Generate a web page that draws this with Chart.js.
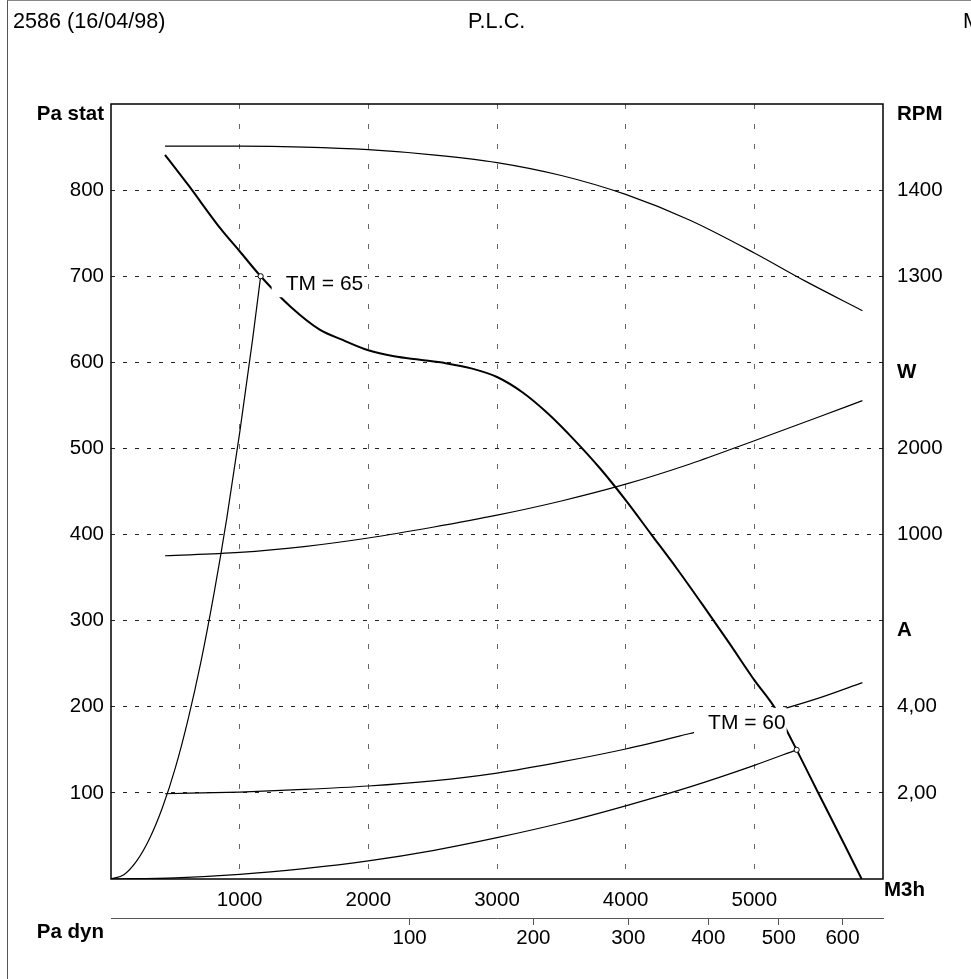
<!DOCTYPE html>
<html>
<head>
<meta charset="utf-8">
<script src="https://cdn.jsdelivr.net/npm/chart.js@4.4.1/dist/chart.umd.min.js"></script>
<style>
  html, body { margin: 0; padding: 0; background: #fff; overflow: hidden; }
  #page { position: absolute; left: 7px; top: 0; width: 990px; height: 990px; border-left: 1px solid #555; border-top: 1px solid #888; }
  .hdr { position: absolute; top: 8px; font: 21.6px "Liberation Sans", Arial, sans-serif; color: #000; white-space: nowrap; }
  canvas { position: absolute; left: 0; top: 0; }
</style>
</head>
<body>
<div id="page"></div>
<canvas id="chart" width="971" height="979"></canvas>
<div class="hdr" style="left:13px">2586 (16/04/98)</div>
<div class="hdr" style="left:468px">P.L.C.</div>
<div class="hdr" style="left:963px">M</div>
<script>
// axes
const X_MAX = 6000;
const PA_MAX = 900;
const X_TICKS = [1000, 2000, 3000, 4000, 5000];
const Y_TICKS = [100, 200, 300, 400, 500, 600, 700, 800];
const PA_DYN_TICKS = [100, 200, 300, 400, 500, 600];
const DYN_K = 232.1;          // m3/h per sqrt(Pa dyn)

// right hand scales: value = offset + factor * Pa stat
const RPM_MAP = [600, 1];
const W_MAP = [-3000, 10];
const A_MAP = [0, 0.02];
const RPM_TICKS = [1400, 1300];
const W_TICKS = [2000, 1000];
const A_TICKS = [4, 2];

// fan curve, Pa stat
const PRESSURE_Q = [420, 600, 858, 1000, 1163, 1400, 1622, 1800, 2000, 2200, 2400, 2600, 2800, 3000, 3200, 3400, 3600, 3800, 4000, 4200, 4400, 4600, 4800, 5000, 5158, 5236, 5329, 5500, 5700, 5834];
const PRESSURE_PA = [841, 806, 754, 729, 700, 664, 638, 626, 614, 607, 603, 599, 593, 583, 565, 540, 510, 477, 440, 400, 360, 318, 275, 231, 199, 177, 150, 99, 40, 0];

// speed
const RPM_Q = [420, 1000, 1500, 2000, 2500, 3000, 3500, 4000, 4500, 5000, 5400, 5840];
const RPM_VAL = [1451, 1451, 1450, 1447, 1441, 1432, 1417, 1395, 1365, 1327, 1294, 1260];

// power
const W_Q = [420, 1000, 1500, 2000, 2500, 3000, 3500, 4000, 4500, 5000, 5500, 5840];
const W_VAL = [754, 792, 860, 960, 1085, 1225, 1390, 1585, 1820, 2090, 2365, 2555];

// current
const A_Q = [420, 1000, 1500, 2000, 2500, 3000, 3500, 4000, 4500, 5000, 5500, 5840];
const A_VAL = [1.98, 2.02, 2.08, 2.16, 2.28, 2.46, 2.72, 3.02, 3.38, 3.76, 4.2, 4.56];

// system curves
const SYS65_Q = [0, 100, 200, 300, 400, 500, 600, 700, 800, 900, 1000, 1100, 1163];
const SYS65_PA = [0, 5, 21, 47, 83, 129, 186, 253, 331, 419, 518, 626, 700];
const SYS60_Q = [0, 500, 1000, 1500, 2000, 2500, 3000, 3500, 4000, 4500, 5000, 5329];
const SYS60_PA = [0, 1.3, 5.3, 12, 21, 33, 48, 65, 85, 107, 132, 150];

// operating points
const OP_Q = [1163, 5329];
const OP_PA = [700, 150];
const OP_LABELS = ['TM = 65', 'TM = 60'];

const FONT = '"Liberation Sans", Arial, sans-serif';
Chart.defaults.font.family = FONT;
Chart.defaults.font.size = 20.5;
Chart.defaults.color = '#000';

function curve(q, v, axis, width) {
    return {
        data: q.map((x, i) => ({ x, y: v[i] })),
        yAxisID: axis,
        borderColor: '#000',
        borderWidth: width,
        pointRadius: 0,
        cubicInterpolationMode: 'monotone',
        fill: false
    };
}

const toPa = (map, v) => (v - map[0]) / map[1];
const rightTicks = [
    ...RPM_TICKS.map(v => ({ value: toPa(RPM_MAP, v), txt: String(v) })),
    ...W_TICKS.map(v => ({ value: toPa(W_MAP, v), txt: String(v) })),
    ...A_TICKS.map(v => ({ value: toPa(A_MAP, v), txt: v.toFixed(2).replace('.', ',') }))
];

// labels for operating points, boxes hide what lies under them
const opLabels = {
    id: 'opLabels',
    afterDatasetsDraw(chart) {
        const { ctx, scales: { x, y } } = chart;
        ctx.save();
        ctx.font = '21px ' + FONT;
        ctx.textBaseline = 'middle';
        OP_LABELS.forEach((txt, i) => {
            const px = x.getPixelForValue(OP_Q[i]);
            const py = y.getPixelForValue(OP_PA[i]);
            const w = ctx.measureText(txt).width;
            let tx, cy;
            if (i === 0) { tx = px + 25; cy = py + 7; }
            else { tx = px - 11 - w; cy = py - 28; }
            ctx.fillStyle = '#fff';
            ctx.fillRect(tx - 14, cy - 14, w + 15, 28);
            ctx.fillStyle = '#000';
            ctx.fillText(txt, tx, cy + 1);
        });
        ctx.restore();
    }
};

const frame = {
    id: 'frame',
    afterDraw(chart) {
        const { ctx, chartArea: a, scales: { x, x2, y, yR } } = chart;
        ctx.save();
        ctx.strokeStyle = '#000';
        ctx.lineWidth = 1.5;
        ctx.strokeRect(a.left, a.top, a.right - a.left, a.bottom - a.top);

        ctx.fillStyle = '#000';
        ctx.font = 'bold 20.5px ' + FONT;
        ctx.textBaseline = 'middle';
        ctx.textAlign = 'right';
        ctx.fillText('Pa stat', y.right - 7, y.getPixelForValue(PA_MAX) + 10);
        ctx.fillText('Pa dyn', y.right - 7, x2.top + 14);
        ctx.textAlign = 'left';
        ctx.fillText('M3h', a.right + 1, x.top + 11);
        const names = [['RPM', RPM_MAP, RPM_TICKS[0]], ['W', W_MAP, W_TICKS[0]], ['A', A_MAP, A_TICKS[0]]];
        names.forEach(([n, map, top]) => {
            ctx.fillText(n, yR.left + 14, yR.getPixelForValue(toPa(map, top) + 100) + 10);
        });
        ctx.restore();
    }
};

new Chart(document.getElementById('chart'), {
    type: 'line',
    data: {
        datasets: [
            {
                data: OP_Q.map((q, i) => ({ x: q, y: OP_PA[i] })),
                yAxisID: 'y',
                showLine: false,
                pointRadius: 2.6,
                pointBackgroundColor: '#fff',
                pointBorderColor: '#000',
                pointBorderWidth: 1
            },
            curve(PRESSURE_Q, PRESSURE_PA, 'y', 2),
            curve(RPM_Q, RPM_VAL, 'yRpm', 1.2),
            curve(W_Q, W_VAL, 'yW', 1.2),
            curve(A_Q, A_VAL, 'yA', 1.2),
            curve(SYS65_Q, SYS65_PA, 'y', 1.2),
            curve(SYS60_Q, SYS60_PA, 'y', 1.2)
        ]
    },
    options: {
        responsive: false,
        devicePixelRatio: 1,
        animation: false,
        events: [],
        layout: { padding: { left: 0, top: 104, right: 0, bottom: 21 } },
        plugins: { legend: { display: false }, tooltip: { enabled: false } },
        scales: {
            x: {
                type: 'linear', position: 'bottom', min: 0, max: X_MAX,
                afterBuildTicks: s => { s.ticks = X_TICKS.map(v => ({ value: v })); },
                afterFit: s => { s.height = 39; },
                ticks: { callback: v => String(v), padding: 9, maxRotation: 0, autoSkip: false },
                grid: { color: '#666', drawTicks: false },
                border: { display: false, dash: [5, 15] }
            },
            x2: {
                type: 'linear', position: 'bottom', min: 0, max: X_MAX,
                afterBuildTicks: s => { s.ticks = PA_DYN_TICKS.map(v => ({ value: DYN_K * Math.sqrt(v) })); },
                afterFit: s => { s.height = 40; },
                ticks: { callback: (v, i) => String(PA_DYN_TICKS[i]), padding: 1, maxRotation: 0, autoSkip: false },
                grid: { drawOnChartArea: false, drawTicks: true, tickLength: 7, tickColor: '#555' },
                border: { display: true, color: '#555', width: 1 }
            },
            y: {
                type: 'linear', position: 'left', min: 0, max: PA_MAX,
                afterBuildTicks: s => { s.ticks = Y_TICKS.map(v => ({ value: v })); },
                afterFit: s => { s.width = 111; },
                ticks: { callback: v => String(v), padding: 7, autoSkip: false },
                grid: { color: '#222', drawTicks: false },
                border: { display: false, dash: [4, 8] }
            },
            yR: {
                type: 'linear', position: 'right', min: 0, max: PA_MAX,
                afterBuildTicks: s => { s.ticks = rightTicks.map(t => ({ ...t })); },
                afterFit: s => { s.width = 88; },
                ticks: { callback: (v, i, t) => t[i].txt, padding: 14, autoSkip: false },
                grid: { display: false, drawTicks: false },
                border: { display: false }
            },
            yRpm: { display: false, min: RPM_MAP[0], max: RPM_MAP[0] + RPM_MAP[1] * PA_MAX },
            yW: { display: false, min: W_MAP[0], max: W_MAP[0] + W_MAP[1] * PA_MAX },
            yA: { display: false, min: A_MAP[0], max: A_MAP[0] + A_MAP[1] * PA_MAX }
        }
    },
    plugins: [opLabels, frame]
});
</script>
</body>
</html>
